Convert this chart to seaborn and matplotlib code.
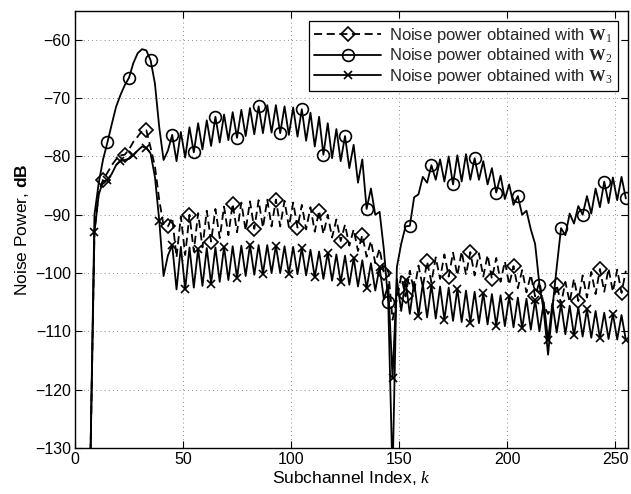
import matplotlib
matplotlib.use("Agg")
import matplotlib.pyplot as plt
import seaborn as sns

# subchannel index (odd k, step 2) and noise power (dB)
k = list(range(7, 256, 2))

w1 = [-135, -93.0, -86.0, -84.0, -82.8, -81.5, -80.5, -79.8, -79.7, -78.8,
      -77.5, -76.6, -75.6, -75.5, -78.5, -81.7, -87.5, -91.8, -92.0, -90.5,
      -97.3, -90.3, -96.9, -90.0, -96.3, -89.7, -95.6, -89.3, -94.6, -89.0,
      -94.0, -88.6, -93.5, -88.1, -93.0, -87.9, -92.7, -87.7, -92.4, -87.5,
      -92.2, -87.4, -92.0, -87.4, -92.0, -87.6, -92.1, -87.9, -92.2, -88.3,
      -92.5, -88.7, -92.9, -89.3, -93.3, -90.0, -93.9, -90.8, -94.5, -91.7,
      -95.3, -92.5, -96.2, -93.5, -97.2, -94.5, -98.3, -95.8, -100.0, -99.5,
      -108.0, -104.5, -100.5, -104.0, -99.6, -103.2, -98.7, -102.4, -98.0, -101.6,
      -97.3, -101.0, -96.8, -100.6, -96.5, -100.4, -96.3, -100.3, -96.4, -100.4,
      -96.6, -100.6, -96.9, -101.0, -97.4, -101.5, -98.0, -102.0, -98.8, -102.6,
      -99.5, -103.3, -100.3, -104.0, -101.5, -105.5, -107.0, -105.5, -102.0, -105.3,
      -101.5, -105.0, -101.0, -104.8, -100.4, -104.2, -99.8, -103.6, -99.3, -103.2,
      -99.2, -103.2, -99.4, -103.4, -99.6]

w2 = [-135, -90.0, -84.5, -80.5, -77.6, -74.5, -71.5, -69.5, -67.8, -66.5,
      -64.0, -62.3, -61.6, -61.8, -63.5, -67.5, -75.0, -80.6, -79.0, -76.3,
      -80.8, -75.8, -80.2, -75.0, -79.3, -74.3, -78.8, -73.8, -78.2, -73.2,
      -77.6, -72.8, -77.2, -72.4, -76.8, -72.0, -76.5, -71.7, -76.2, -71.4,
      -76.0, -71.2, -75.9, -71.2, -76.0, -71.4, -76.3, -71.6, -76.6, -71.9,
      -77.3, -72.5, -78.3, -73.2, -79.7, -74.3, -80.3, -75.3, -80.8, -76.5,
      -82.0, -78.0, -84.5, -80.5, -89.0, -85.5, -90.0, -89.5, -96.0, -105.0,
      -135, -99.0, -95.0, -92.0, -91.9, -87.0, -86.5, -83.5, -84.5, -81.5,
      -84.0, -80.5, -84.3, -80.0, -84.8, -79.8, -84.3, -79.6, -84.0, -80.3,
      -84.0, -80.8, -84.8, -82.0, -86.2, -83.3, -87.3, -84.8, -88.3, -86.8,
      -90.0, -89.3, -92.5, -95.0, -102.0, -106.5, -114.0, -106.0, -99.0, -92.3,
      -93.5, -89.8, -91.5, -88.5, -90.0, -86.8, -89.8, -85.5, -88.7, -84.3,
      -88.0, -83.6, -87.5, -83.5, -87.2]

w3 = [-135, -93.0, -86.5, -84.3, -84.0, -83.0, -81.5, -80.8, -80.6, -80.4,
      -79.8, -79.0, -78.3, -78.5, -79.5, -83.5, -91.0, -100.5, -97.0, -95.2,
      -102.8, -95.5, -102.8, -95.6, -102.5, -95.8, -102.2, -95.7, -101.8, -95.6,
      -101.5, -95.5, -101.2, -95.4, -100.8, -95.3, -100.5, -95.2, -100.3, -95.2,
      -100.1, -95.2, -100.0, -95.3, -100.0, -95.4, -100.1, -95.5, -100.2, -95.7,
      -100.4, -96.0, -100.7, -96.3, -101.0, -96.5, -101.3, -96.8, -101.6, -97.0,
      -102.0, -97.4, -102.3, -97.8, -102.6, -98.3, -103.0, -99.0, -104.5, -102.0,
      -118.0, -101.0, -106.5, -101.2, -107.0, -101.5, -107.3, -101.8, -107.6, -102.0,
      -107.8, -102.3, -108.0, -102.5, -108.2, -102.7, -108.4, -103.0, -108.5, -103.2,
      -108.6, -103.4, -108.8, -103.6, -109.0, -103.8, -109.1, -104.0, -109.3, -104.2,
      -109.5, -104.4, -109.7, -104.6, -110.0, -105.0, -111.5, -105.2, -110.2, -105.3,
      -110.5, -105.6, -110.7, -105.9, -110.9, -106.2, -111.1, -106.5, -111.2, -106.8,
      -111.3, -107.0, -111.4, -107.2, -111.5]

labels = [r"Noise power obtained with $\mathbf{W}_1$",
          r"Noise power obtained with $\mathbf{W}_2$",
          r"Noise power obtained with $\mathbf{W}_3$"]
xticks = [0, 50, 100, 150, 200, 250]
yticks = [-130, -120, -110, -100, -90, -80, -70, -60]

sns.set_theme(style="ticks")
plt.rcParams.update({
    "font.family": ["Liberation Sans", "DejaVu Sans"],
    "mathtext.fontset": "custom",
    "mathtext.rm": "Liberation Serif",
    "mathtext.it": "Liberation Serif:italic",
    "mathtext.bf": "Liberation Serif:bold",
    "mathtext.sf": "Liberation Sans:bold",
    "axes.unicode_minus": True,
})

W, H = 631, 494
fig = plt.figure(figsize=(W / 100, H / 100), dpi=100)
ax = fig.add_axes([75 / W, 1 - 448 / H, (628 - 75) / W, (448 - 10.7) / H])

common = dict(ax=ax, color="black", linewidth=1.3, markerfacecolor="none",
              markeredgecolor="black", markeredgewidth=1.2, sort=False)
sns.lineplot(x=k, y=w1, linestyle=(0, (4.5, 2.5)), marker="D", markersize=7,
             markevery=(3, 5), label=labels[0], **common)
sns.lineplot(x=k, y=w2, linestyle="-", marker="o", markersize=8.5,
             markevery=(4, 5), label=labels[1], **common)
sns.lineplot(x=k, y=w3, linestyle="-", marker="x", markersize=6,
             markevery=(1, 3), label=labels[2], **common)

ax.set_xlim(0, 256)
ax.set_ylim(-130, -55)
ax.set_xticks(xticks)
ax.set_yticks(yticks)
ax.tick_params(direction="in", length=5, width=0.8, top=True, right=True,
               labelsize=11.5, colors="black", pad=3)
ax.grid(True, color="black", linestyle=(0, (1, 4)), linewidth=0.6, alpha=0.6)
for s in ax.spines.values():
    s.set_color("black")
    s.set_linewidth(1.0)

ax.set_xlabel(r"Subchannel Index, $k$", fontsize=12.5, color="black", labelpad=1)
ax.set_ylabel(r"Noise Power, $\mathsf{dB}$", fontsize=12.5, color="black", labelpad=3)

leg = ax.legend(loc="upper right", bbox_to_anchor=(1 - 10 / 553, 1 - 10 / 437.3),
                borderaxespad=0, fontsize=12, frameon=True, fancybox=False,
                edgecolor="black", framealpha=1, labelspacing=0.1,
                handlelength=4.0, handletextpad=0.5, borderpad=0.3)
leg.get_frame().set_linewidth(0.9)

fig.savefig("out.png", dpi=100)
